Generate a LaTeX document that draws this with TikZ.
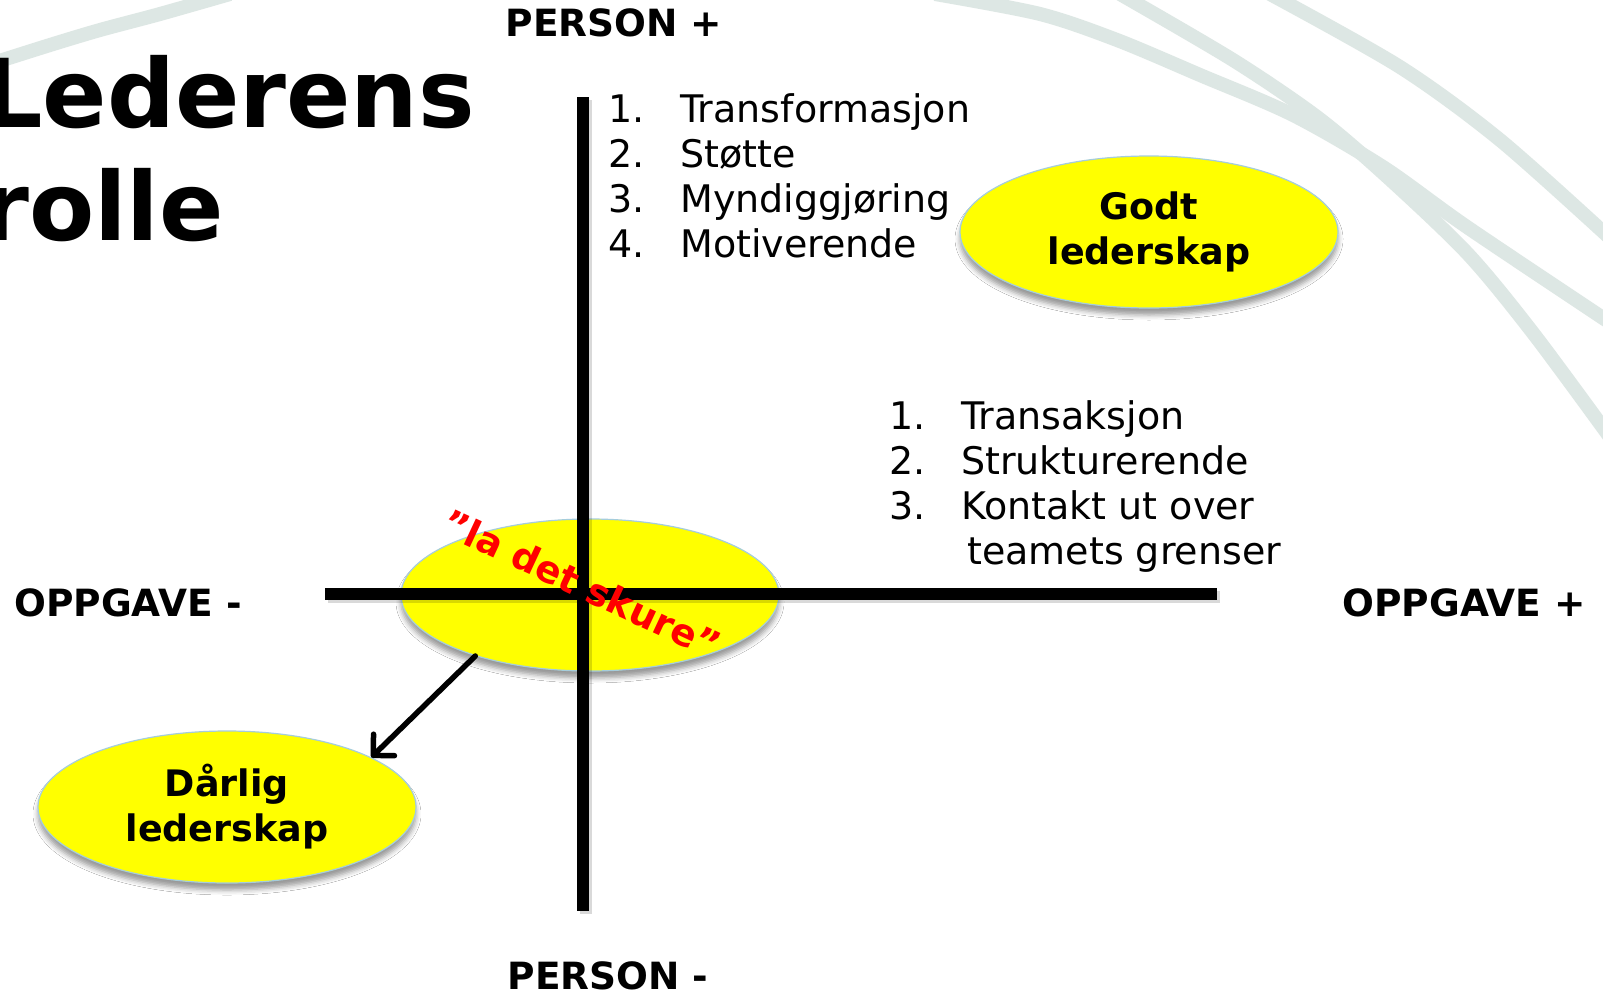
\documentclass[tikz,border=0pt]{standalone}
\usepackage{fontspec}
\setmainfont{DejaVu Sans}
\usetikzlibrary{shapes.geometric,arrows.meta,shadows.blur}

\definecolor{arcgrey}{RGB}{221,231,228}
\definecolor{ovalyellow}{RGB}{255,255,0}
\definecolor{ovaledge}{RGB}{165,205,220}
\definecolor{slogan}{RGB}{255,0,0}

\begin{document}
\begin{tikzpicture}[x=1pt,y=-1pt,
  arcband/.style={draw=arcgrey,line width=14pt},
  axisline/.style={line width=12pt,line cap=butt},
  axisshade/.style={line width=12pt,draw=black,opacity=0.15},
  oval/.style={ellipse,fill=ovalyellow,draw=ovaledge,line width=1.2pt,
    minimum width=378pt,minimum height=152pt,inner sep=0pt,align=center,
    font=\bfseries\fontsize{36.5}{45}\selectfont,
    blur shadow={shadow xshift=0pt,shadow yshift=-7pt,shadow blur radius=5pt,shadow opacity=40}},
  axlabel/.style={inner sep=0pt,font=\bfseries\fontsize{37.5}{44}\selectfont},
  item/.style={inner sep=0pt,anchor=base west,font=\fontsize{38}{45}\selectfont},
  titletext/.style={inner sep=0pt,anchor=base west,font=\bfseries\fontsize{95}{110}\selectfont},
  pointer/.style={line width=5.5pt,line cap=round,
    -{Straight Barb[length=15pt,width=30pt,line width=5.5pt,round]}},
]
% page
\fill[white] (0,0) rectangle (1603,993);
\useasboundingbox (0,0) rectangle (1603,993);

% background swooshes
\draw[arcband] plot[smooth] coordinates {(-10,64) (50,45) (100,30) (160,14) (230,-6)};
\draw[arcband] plot[smooth] coordinates {(935,-6) (1040,14) (1117,40) (1200,75) (1293,115) (1383,167) (1467,227) (1612,324)};
\draw[arcband] plot[smooth] coordinates {(1120,-6) (1233,60) (1317,117) (1383,173) (1467,253) (1533,333) (1612,440)};
\draw[arcband] plot[smooth] coordinates {(1270,-6) (1400,67) (1500,140) (1612,240)};

% centre oval under the axes
\node[oval] (mid) at (590,595) {};

% axes
\coordinate (vtop) at (583,97);
\coordinate (vbot) at (583,911);
\coordinate (hleft) at (325,594);
\coordinate (hright) at (1217,594);
\draw[axisshade] ([shift={(3,3)}]vtop) -- ([shift={(3,3)}]vbot);
\draw[axisshade] ([shift={(3,3)}]hleft) -- ([shift={(3,3)}]hright);
\draw[axisline] (vtop) -- (vbot);
\draw[axisline] (hleft) -- (hright);

% slanted slogan over the crossing
\node[rotate=-25,inner sep=0pt,text=slogan,font=\bfseries\fontsize{37.5}{40}\selectfont] (motto) at (582,584) {”la det skure”};

% outcome ovals
\node[oval] (good) at (1149,232) {Godt\\lederskap};
\node[oval] (bad) at (227,807) {Dårlig\\lederskap};
\draw[pointer] (mid.208) -- (bad.19);

% axis labels
\node[axlabel] (ptop) at (614,23) {PERSON +};
\node[axlabel] (pbot) at (608,976) {PERSON -};
\node[axlabel] (oleft) at (128,603) {OPPGAVE -};
\node[axlabel] (oright) at (1464,603) {OPPGAVE +};

% title
\node[titletext] (t1) at (-18,127) {Lederens};
\node[titletext] (t2) at (-18,240) {rolle};

% person-oriented list
\node[item] (a1) at (608,122) {1.};
\node[item] (a1t) at (680,122) {Transformasjon};
\node[item] (a2) at (608,167) {2.};
\node[item] (a2t) at (680,167) {Støtte};
\node[item] (a3) at (608,212) {3.};
\node[item] (a3t) at (680,212) {Myndiggjøring};
\node[item] (a4) at (608,257) {4.};
\node[item] (a4t) at (680,257) {Motiverende};

% task-oriented list
\node[item] (b1) at (889,429) {1.};
\node[item] (b1t) at (961,429) {Transaksjon};
\node[item] (b2) at (889,474) {2.};
\node[item] (b2t) at (961,474) {Strukturerende};
\node[item] (b3) at (889,519) {3.};
\node[item] (b3t) at (961,519) {Kontakt ut over};
\node[item] (b4t) at (967,564) {teamets grenser};
\end{tikzpicture}
\end{document}
